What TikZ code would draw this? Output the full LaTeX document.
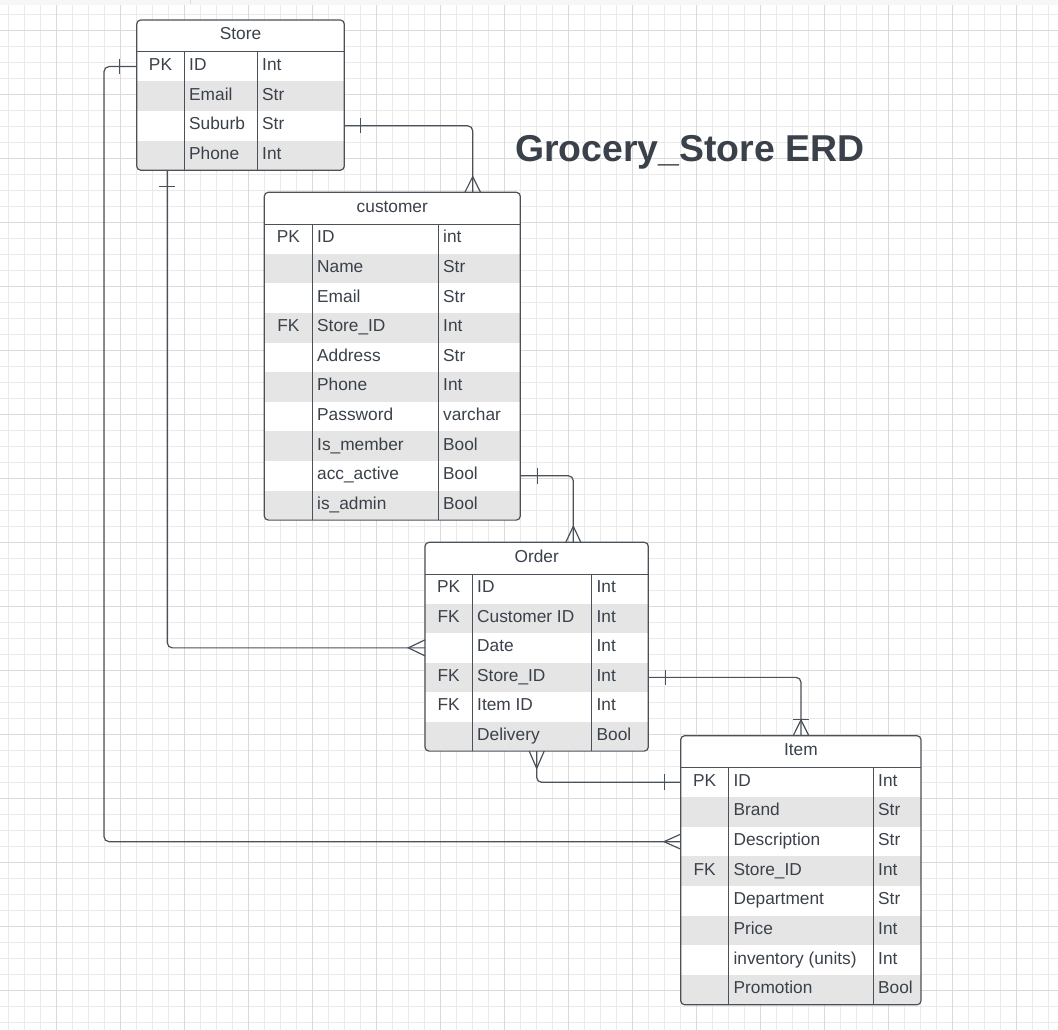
\documentclass[tikz,border=0pt]{standalone}
\usepackage{fontspec}
\setmainfont{Liberation Sans}
\usetikzlibrary{calc}

\definecolor{ink}{HTML}{3A414A}
\definecolor{edge}{HTML}{4B5159}
\definecolor{rowgray}{HTML}{E5E5E5}
\definecolor{gridminor}{HTML}{EAEAEA}
\definecolor{gridmajor}{HTML}{DADADA}
\definecolor{topbar}{HTML}{F6F7F9}

\tikzset{
  tblbox/.style={draw=edge, line width=1.2pt, rounded corners=4pt, inner sep=0pt, outer sep=0pt},
  tblline/.style={draw=edge, line width=1.2pt},
  celltext/.style={text=ink, font=\fontsize{17.3}{20}\selectfont, inner sep=0pt},
  rel/.style={draw=edge, line width=1.2pt, rounded corners=5pt},
  relend/.style={draw=edge, line width=1.2pt},
}

% name, north west corner, width, key column, type column, title, rows, row height
\newcommand{\entity}[8]{%
  \foreach \fkey/\fname/\ftype [count=\row] in {#7} {\xdef\nrows{\row}}%
  \pgfmathsetmacro{\tblh}{31.8+#8*\nrows}%
  \begin{scope}[shift={#2}]
    % white body and grey rows
    \begin{scope}
      \clip[rounded corners=4pt] (0,0) rectangle (#3,\tblh);
      \fill[white] (0,0) rectangle (#3,\tblh);
      \foreach \fkey/\fname/\ftype [count=\row] in {#7} {
        \ifodd\row\relax\else
          \fill[rowgray] (0,{31.8+#8*(\row-1)}) rectangle (#3,{31.8+#8*\row});
        \fi
      }
    \end{scope}
    \node[tblbox, anchor=north west, minimum width=#3pt, minimum height=\tblh pt] (#1) at (0,0) {};
    \node[celltext, anchor=base] (#1-title) at ({#3/2},19.7) {#6};
    \draw[tblline] (0,31.8) -- (#3,31.8);
    \draw[tblline] (#4,31.8) -- (#4,\tblh);
    \draw[tblline] (#5,31.8) -- (#5,\tblh);
    \foreach \fkey/\fname/\ftype [count=\row] in {#7} {
      \coordinate (#1-r\row) at (0,{31.8+#8*(\row-0.5)});
      \node[celltext, anchor=base] (#1-k\row) at ({#4/2},{31.8+#8*(\row-0.5)+4}) {\fkey};
      \node[celltext, anchor=base west] (#1-n\row) at ({#4+4.7},{31.8+#8*(\row-0.5)+4}) {\fname};
      \node[celltext, anchor=base west] (#1-t\row) at ({#5+4.7},{31.8+#8*(\row-0.5)+4}) {\ftype};
    }
  \end{scope}
}

\begin{document}
\begin{tikzpicture}[x=1pt, y=-1pt]
  \useasboundingbox (0,0) rectangle (1058,1030);

  % grid paper
  \fill[topbar] (0,0) rectangle (1058,5);
  \draw[gridmajor] (190,0) -- (190,4);
  \foreach \gx in {8.3,24.3,...,1058} \draw[gridminor, line width=1pt] (\gx,5) -- (\gx,1030);
  \foreach \gy in {14.3,30.3,...,1030} \draw[gridminor, line width=1pt] (0,\gy) -- (1058,\gy);
  \foreach \gx in {56.3,120.3,...,1058} \draw[gridmajor, line width=1pt] (\gx,5) -- (\gx,1030);
  \foreach \gy in {30.3,94.3,...,1030} \draw[gridmajor, line width=1pt] (0,\gy) -- (1058,\gy);

  % tables
  \entity{store}{(136.7,20)}{207.6}{47.6}{120.6}{Store}
    {PK/ID/Int, /Email/Str, /Suburb/Str, /Phone/Int}{29.6}
  \entity{customer}{(264.3,192.3)}{256}{48}{174}{customer}
    {PK/ID/int, /Name/Str, /Email/Str, FK/Store\_ID/Int, /Address/Str, /Phone/Int,
     /Password/varchar, /Is\_member/Bool, /acc\_active/Bool, /is\_admin/Bool}{29.6}
  \entity{order}{(425,542.3)}{223.3}{47.3}{166.7}{Order}
    {PK/ID/Int, FK/Customer ID/Int, /Date/Int, FK/Store\_ID/Int, FK/Item ID/Int, /Delivery/Bool}{29.5}
  \entity{item}{(680.7,735.7)}{240.3}{48}{192.6}{Item}
    {PK/ID/Int, /Brand/Str, /Description/Str, FK/Store\_ID/Int, /Department/Str, /Price/Int,
     /inventory (units)/Int, /Promotion/Bool}{29.66}

  \node[text=ink, font=\fontsize{37.4}{44}\selectfont\bfseries, anchor=base west, inner sep=0pt]
    (title) at (514.8,162) {Grocery\_Store ERD};

  % relations
  \coordinate (store-foot) at ($(store.south west)+(30.6,0)$);
  \coordinate (cust-head) at ($(customer.north west)+(208.4,0)$);
  \coordinate (order-head) at ($(order.north west)+(148.3,0)$);
  \coordinate (order-foot) at ($(order.south west)+(111.7,0)$);
  \coordinate (item-head) at ($(item.north west)+(120.3,0)$);

  % Store -- Item
  \draw[rel] (store-r1) -- ++(-32.7,0) |- (item-r3);
  \draw[relend] (store-r1) ++(-17.4,-7.5) -- ++(0,15);
  \draw[relend] (item-r3) ++(0,-7.5) -- ++(-16.7,7.5) -- ++(16.7,7.5);

  % Store -- Order
  \draw[rel] (store-foot) |- (order-r3);
  \draw[relend] (store-foot) ++(-8,16.7) -- ++(16,0);
  \draw[relend] (order-r3) ++(0,-8) -- ++(-16.7,8) -- ++(16.7,8);

  % Store -- customer
  \draw[rel] (store.east |- store-r3) -| (cust-head);
  \draw[relend] (store.east |- store-r3) ++(16.4,-7.5) -- ++(0,15);
  \draw[relend] (cust-head) ++(-7.8,0) -- ++(7.8,-15.6) -- ++(7.8,15.6);

  % customer -- Order
  \draw[rel] (customer.east |- customer-r9) -| (order-head);
  \draw[relend] (customer.east |- customer-r9) ++(17,-8) -- ++(0,16);
  \draw[relend] (order-head) ++(-7.5,0) -- ++(7.5,-16) -- ++(7.5,16);

  % Order -- Item (store)
  \draw[rel] (order.east |- order-r4) -| (item-head);
  \draw[relend] (order.east |- order-r4) ++(17.4,-7.5) -- ++(0,15);
  \draw[relend] (item-head) ++(-7.8,0) -- ++(7.8,-15.7) -- ++(7.8,15.7);
  \draw[relend] (item-head) ++(-7.8,-16.2) -- ++(15.6,0);

  % Order -- Item (id)
  \draw[rel] (order-foot) |- (item-r1);
  \draw[relend] (order-foot) ++(-7.5,0) -- ++(7.5,17.3) -- ++(7.5,-17.3);
  \draw[relend] (item-r1) ++(-16.4,-8) -- ++(0,16);
\end{tikzpicture}
\end{document}
